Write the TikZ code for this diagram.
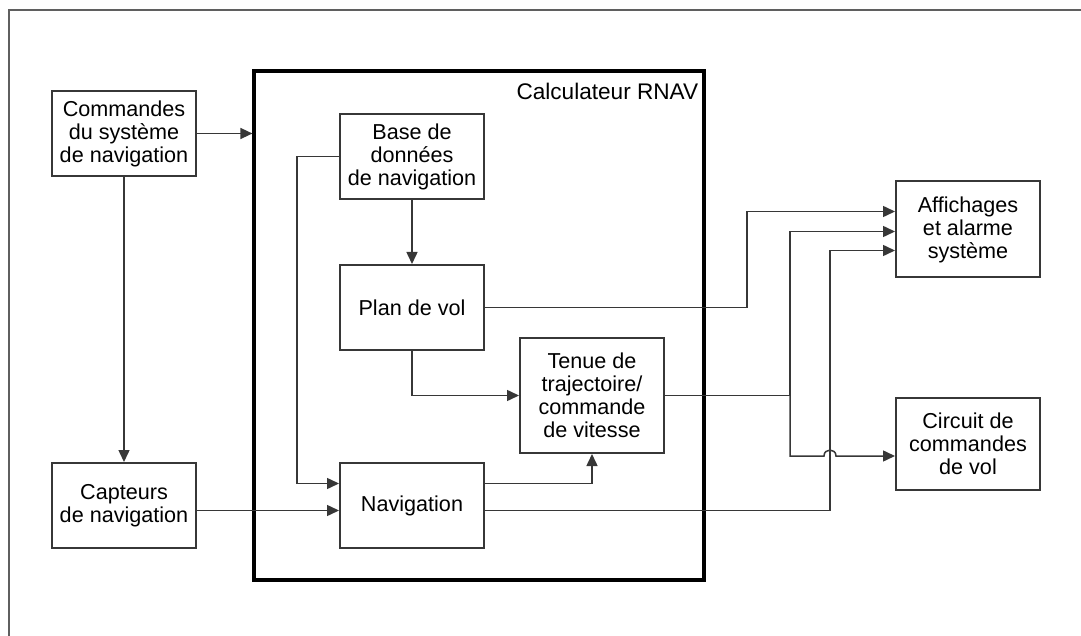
\documentclass[tikz,border=0pt]{standalone}
\usepackage{fontspec}
\setmainfont{Liberation Sans}
\usetikzlibrary{arrows.meta,calc}
\definecolor{figK}{RGB}{55,55,55}

\begin{document}
\begin{tikzpicture}[>={Triangle[length=6pt,width=5.5pt]},x=0.5pt,y=-0.5pt,every node/.style={font=\fontsize{10.8}{11.5}\selectfont,align=center},
  blk/.style={draw=figK,line width=1pt,minimum width=72pt,minimum height=42.5pt,inner sep=2pt},
  wire/.style={figK,line width=0.75pt}]
\useasboundingbox (0,0) rectangle (1081,636);
\draw[figK!80,line width=1pt] (9,636) -- (9,10) -- (1081,10);
% left column
\node[blk] (cmd) at (124,133.5) {Commandes\\du système\\de navigation};
\node[blk] (capt) at (124,505.5) {Capteurs\\de navigation};
% RNAV computer
\node[draw=black,line width=1.6pt,minimum width=225pt,minimum height=254.5pt] (rnav) at (479,325.5) {};
\node[anchor=north east,inner sep=0pt,font=\fontsize{11.3}{12}\selectfont] (rnavlbl) at ($(rnav.north east)+(-7,13)$) {Calculateur RNAV};
\node[blk] (base) at (412,156.5) {Base de\\données\\de navigation};
\node[blk] (plan) at (412,307.5) {Plan de vol};
\node[blk,minimum height=57.5pt] (tenue) at (592,395.5) {Tenue de\\trajectoire/\\commande\\de vitesse};
\node[blk] (nav) at (412,505.5) {Navigation};
% outputs
\node[blk,minimum height=48pt] (aff) at (968,229.5) {Affichages\\et alarme\\système};
\node[blk,minimum height=46pt] (circ) at (968,444) {Circuit de\\commandes\\de vol};
% connectors
\draw[wire,->] (cmd.east) -- (cmd.east -| rnav.west);
\draw[wire,->] (cmd) -- (capt);
\draw[wire,->] ($(capt.east)+(0,5)$) -- ($(nav.west)+(0,5)$);
\draw[wire,->] (base.west) -- ++(-42,0) |- ($(nav.west)+(0,-22)$);
\draw[wire,->] (base) -- (plan);
\draw[wire,->] (plan.south) |- (tenue.west);
\draw[wire,->] ($(nav.east)+(0,-22)$) -| (tenue.south);
\draw[wire,->] (plan.east) -- ++(262,0) |- ($(aff.west)+(0,-18)$);
\draw[wire] (tenue.east) -- ++(125,0) coordinate (split);
\draw[wire,->] (split) |- ($(aff.west)+(0,2)$);
\draw[wire,->] ($(nav.east)+(0,5)$) -- ++(345,0) coordinate (navup) |- ($(aff.west)+(0,21)$);
\coordinate (cin) at ($(circ.west)+(0,12)$);
\draw[wire,->] (split) |- ($(navup |- cin)+(-6,0)$) to[out=90,in=90,looseness=1.7] ++(12,0) -- (cin);
\end{tikzpicture}
\end{document}
